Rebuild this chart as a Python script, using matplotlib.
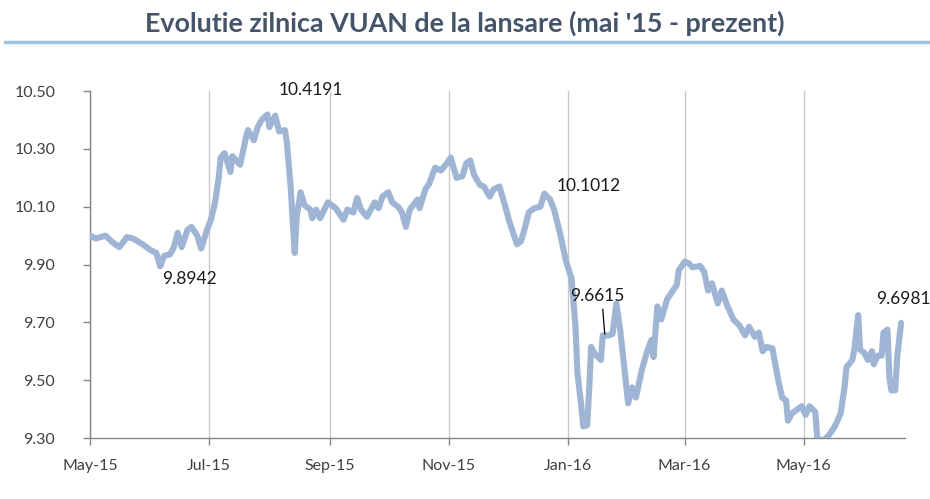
import numpy as np
import matplotlib
matplotlib.use("Agg")
import matplotlib.pyplot as plt
import matplotlib.dates as mdates
from matplotlib.lines import Line2D

START = np.datetime64("2015-05-01")

# zile de la 1 mai 2015 si cotatia VUAN
zile = [0, 3, 8, 11, 15, 19, 22, 27, 31, 34, 36, 38, 41, 43, 45, 47, 50, 52, 55, 57,
        60, 62, 64, 66, 67, 69, 72, 73, 77, 80, 81, 84, 86, 88, 91, 92, 95, 97, 100, 101,
        103, 104, 105, 106, 108, 110, 113, 114, 116, 118, 122, 126, 130, 132, 135, 137, 139, 142, 146, 148,
        150, 153, 155, 158, 160, 162, 164, 168, 169, 172, 174, 177, 180, 183, 185, 188, 191, 193, 195, 197,
        200, 202, 205, 207, 210, 213, 215, 219, 221, 223, 225, 228, 231, 233, 236, 238, 241, 244, 247, 249,
        250, 252, 253, 255, 256, 257, 259, 262, 263, 266, 268, 270, 272, 274, 276, 278, 280, 283, 286, 288,
        289, 291, 293, 296, 298, 301, 302, 305, 307, 309, 313, 315, 317, 319, 322, 324, 327, 330, 333, 336,
        338, 341, 343, 345, 347, 350, 353, 355, 357, 358, 360, 363, 365, 367, 369, 372, 373, 376, 379, 382,
        385, 387, 388, 391, 392, 394, 395, 397, 399, 401, 402, 404, 406, 407, 409, 410, 411, 413, 414, 416]

cotatie = [10.00, 9.99, 10.00, 9.98, 9.96, 9.995, 9.99, 9.97, 9.95, 9.94, 9.894, 9.93, 9.935, 9.96, 10.01, 9.96, 10.02, 10.03, 10.00, 9.955,
           10.02, 10.055, 10.11, 10.20, 10.27, 10.285, 10.22, 10.275, 10.245, 10.34, 10.365, 10.33, 10.375, 10.40, 10.419, 10.375, 10.415, 10.36, 10.365, 10.32,
           10.16, 10.045, 9.94, 10.065, 10.15, 10.105, 10.09, 10.06, 10.09, 10.06, 10.115, 10.095, 10.055, 10.09, 10.08, 10.13, 10.09, 10.065, 10.115, 10.095,
           10.135, 10.15, 10.115, 10.10, 10.08, 10.03, 10.09, 10.125, 10.095, 10.16, 10.18, 10.235, 10.225, 10.25, 10.27, 10.20, 10.205, 10.25, 10.26, 10.21,
           10.175, 10.17, 10.135, 10.16, 10.17, 10.10, 10.05, 9.97, 9.98, 10.025, 10.08, 10.095, 10.10, 10.145, 10.125, 10.09, 10.01, 9.915, 9.85, 9.685,
           9.525, 9.41, 9.34, 9.345, 9.465, 9.615, 9.59, 9.57, 9.655, 9.655, 9.66, 9.765, 9.67, 9.545, 9.42, 9.475, 9.44, 9.535, 9.605, 9.64,
           9.58, 9.755, 9.71, 9.78, 9.80, 9.83, 9.88, 9.91, 9.905, 9.89, 9.895, 9.875, 9.81, 9.835, 9.765, 9.81, 9.755, 9.71, 9.69, 9.655,
           9.685, 9.65, 9.665, 9.60, 9.615, 9.61, 9.50, 9.44, 9.43, 9.36, 9.385, 9.40, 9.41, 9.38, 9.41, 9.39, 9.30, 9.29, 9.31, 9.34,
           9.385, 9.475, 9.545, 9.57, 9.605, 9.725, 9.605, 9.595, 9.57, 9.60, 9.555, 9.585, 9.585, 9.665, 9.675, 9.51, 9.465, 9.465, 9.58, 9.698]

# etichete: text, ziua si valoarea unde sta textul
etichete = [("9.8942", 51, 9.85),
            ("10.4191", 113, 10.505),
            ("10.1012", 256, 10.17),
            ("9.6615", 260, 9.79),
            ("9.6981", 417, 9.78)]
leader_6615 = (264, 9.66)

yticks = [9.30, 9.50, 9.70, 9.90, 10.10, 10.30, 10.50]

FONT = "Lato"
LINIE = "#9FB5D6"
GRI = "#868686"


def zi_la_data(zi):
    return (START + np.timedelta64(int(zi), "D")).astype("datetime64[ms]").astype(object)


daty = [zi_la_data(z) for z in zile]

fig = plt.figure(figsize=(9.3, 4.99), dpi=100)
ax = fig.add_axes([0.0968, 0.1222, 0.8763, 0.6954])

ax.plot(daty, cotatie, color=LINIE, linewidth=4.4, solid_joinstyle="round",
        solid_capstyle="round", zorder=3)

ax.set_ylim(9.30, 10.50)
ax.set_yticks(yticks)
ax.set_yticklabels([f"{v:.2f}" for v in yticks])
ax.set_xlim(zi_la_data(0), zi_la_data(418))
ax.xaxis.set_major_locator(mdates.MonthLocator(bymonth=[1, 3, 5, 7, 9, 11]))
ax.xaxis.set_major_formatter(mdates.DateFormatter("%b-%y"))

ax.grid(axis="x", color="#C8C8C8", linewidth=1.0)
ax.set_axisbelow(True)
for s in ["top", "right"]:
    ax.spines[s].set_visible(False)
for s in ["left", "bottom"]:
    ax.spines[s].set_color(GRI)
    ax.spines[s].set_linewidth(1.0)
ax.tick_params(axis="both", direction="out", length=5, color=GRI, width=1.0,
               labelsize=11.5, labelcolor="#404040")
ax.tick_params(axis="x", pad=10)
ax.tick_params(axis="y", pad=20)
for lab in ax.get_xticklabels() + ax.get_yticklabels():
    lab.set_fontfamily(FONT)

for text, zi, val in etichete:
    ax.text(zi_la_data(zi), val, text, ha="center", va="center", fontsize=12.5,
            family=FONT, color="#1a1a1a", clip_on=False, zorder=4)

# linia de legatura pentru 9.6615
ax.plot([zi_la_data(263), zi_la_data(leader_6615[0])], [9.745, leader_6615[1]],
        color="black", linewidth=0.9, zorder=4)

fig.text(0.5, 0.953, "Evolutie zilnica VUAN de la lansare (mai '15 - prezent)",
         ha="center", va="center", fontsize=19.4, fontweight="bold",
         family=FONT, color="#44546A")
fig.add_artist(Line2D([0.005, 1.0], [0.916, 0.916], transform=fig.transFigure,
                      color="#9DC3E6", linewidth=2.5))

fig.savefig("out.png", dpi=100)
